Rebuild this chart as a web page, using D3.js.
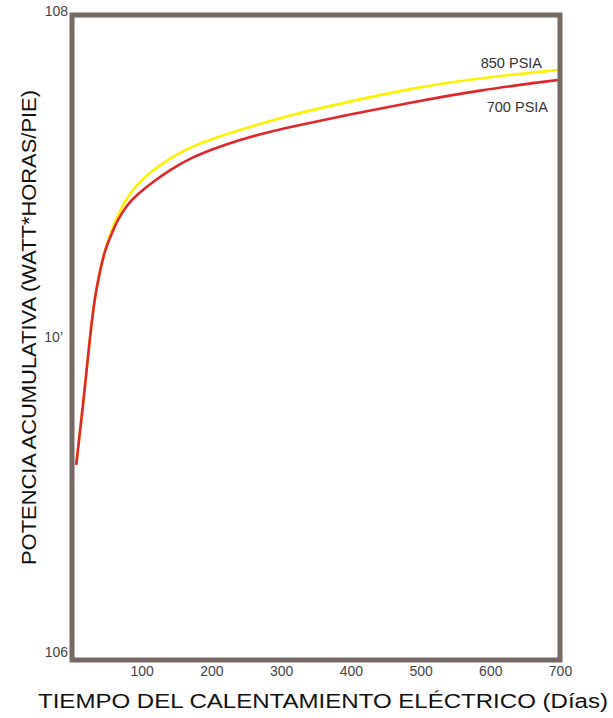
<!DOCTYPE html>
<html>
<head>
<meta charset="utf-8">
<script src="https://cdn.jsdelivr.net/npm/d3@7"></script>
<style>
  body { margin: 0; background: #fff; }
  svg { display: block; font-family: "Liberation Sans", Arial, sans-serif; }
</style>
</head>
<body>
<div id="chart"></div>
<script>
// data (days, watt*horas/pie)
const days700 = [6, 16, 26, 33, 40, 47, 55, 65, 79, 93, 116, 141, 169, 217, 265, 313, 395, 489, 585, 697];
const power700 = [4.03e6, 6.18e6, 1.02e7, 1.35e7, 1.60e7, 1.86e7, 2.05e7, 2.31e7, 2.58e7, 2.77e7, 3.04e7, 3.31e7, 3.60e7, 3.95e7, 4.25e7, 4.50e7, 4.90e7, 5.37e7, 5.85e7, 6.29e7];

const days850 = [6, 16, 26, 33, 40, 47, 55, 69, 83, 102, 126, 151, 169, 217, 265, 313, 395, 489, 585, 697];
const power850 = [4.03e6, 6.18e6, 1.02e7, 1.35e7, 1.60e7, 1.87e7, 2.11e7, 2.49e7, 2.81e7, 3.12e7, 3.43e7, 3.70e7, 3.89e7, 4.25e7, 4.56e7, 4.90e7, 5.37e7, 5.94e7, 6.38e7, 6.75e7];

const xTicks = [100, 200, 300, 400, 500, 600, 700];
const yTicks = [1e6, 1e7, 1e8];
const yTickLabels = ["106", "10\u2019", "108"];

const seriesNames = ["850 PSIA", "700 PSIA"];
const seriesColors = ["#fff200", "#e0262a"];

const cfg = {
  width: 613,
  height: 718,
  margin: { left: 72, right: 53, top: 15, bottom: 58 }
};

const series = [
  { name: seriesNames[0], color: seriesColors[0], pts: days850.map((d, i) => ({ day: d, v: power850[i] })) },
  { name: seriesNames[1], color: seriesColors[1], pts: days700.map((d, i) => ({ day: d, v: power700[i] })) }
];

const svg = d3.select("#chart")
  .append("svg")
  .attr("width", cfg.width)
  .attr("height", cfg.height);

const xScale = d3.scaleLinear([0, 700], [cfg.margin.left, cfg.width - cfg.margin.right]);
const yScale = d3.scaleLog([1e6, 1e8], [cfg.height - cfg.margin.bottom, cfg.margin.top]);

const line = d3.line()
  .x(d => xScale(d.day))
  .y(d => yScale(d.v))
  .curve(d3.curveBasis);

// curves (yellow drawn first, red on top)
svg.append("g")
  .attr("class", "chartlines")
  .selectAll("path")
  .data(series)
  .join("path")
  .attr("d", d => line(d.pts))
  .style("fill", "none")
  .style("stroke", d => d.color)
  .style("stroke-width", 2.6);

// frame
svg.append("rect")
  .attr("x", xScale(0))
  .attr("y", yScale(1e8))
  .attr("width", xScale(700) - xScale(0))
  .attr("height", yScale(1e6) - yScale(1e8))
  .style("fill", "none")
  .style("stroke", "#766862")
  .style("stroke-width", 5);

// x axis labels
const xAxis = d3.axisBottom(xScale).tickValues(xTicks).tickSize(0).tickPadding(0);
const gx = svg.append("g")
  .attr("class", "xAxis")
  .attr("transform", `translate(0, ${yScale(1e6) + 6})`)
  .call(xAxis);
gx.select(".domain").remove();
gx.selectAll("text")
  .style("font-size", "14px")
  .style("fill", "#444")
  .style("font-family", "'Liberation Sans', Arial, sans-serif");

// y axis labels
const yAxis = d3.axisLeft(yScale).tickValues(yTicks).tickSize(0).tickPadding(0)
  .tickFormat((d, i) => yTickLabels[i]);
const gy = svg.append("g")
  .attr("class", "yAxis")
  .attr("transform", `translate(${xScale(0) - 4}, 0)`)
  .call(yAxis);
gy.select(".domain").remove();
gy.selectAll("text")
  .style("font-size", "14px")
  .style("fill", "#444")
  .style("font-family", "'Liberation Sans', Arial, sans-serif");
gy.selectAll(".tick")
  .attr("transform", (d, i) => {
    const shift = [-7, 0, -3][i];
    return `translate(0, ${yScale(d) + shift})`;
  });
gy.selectAll(".tick").filter((d, i) => i === 1)
  .select("text").attr("dx", -5);

// series labels
svg.append("g")
  .selectAll("text")
  .data(series)
  .join("text")
  .attr("x", (d, i) => xScale(700) - (i === 0 ? 18 : 12))
  .attr("y", (d, i) => yScale(d.pts[d.pts.length - 1].v) + (i === 0 ? -2 : 32))
  .attr("text-anchor", "end")
  .style("font-size", "14.5px")
  .style("fill", "#333")
  .text(d => d.name);

// axis titles
svg.append("text")
  .attr("x", 38)
  .attr("y", 708)
  .attr("textLength", 570)
  .attr("lengthAdjust", "spacingAndGlyphs")
  .style("font-size", "20.5px")
  .style("fill", "#111")
  .text("TIEMPO DEL CALENTAMIENTO ELÉCTRICO (Días)");

svg.append("text")
  .attr("transform", "translate(36, 565) rotate(-90)")
  .attr("textLength", 475)
  .attr("lengthAdjust", "spacingAndGlyphs")
  .style("font-size", "20px")
  .style("fill", "#111")
  .text("POTENCIA ACUMULATIVA (WATT*HORAS/PIE)");
</script>
</body>
</html>
